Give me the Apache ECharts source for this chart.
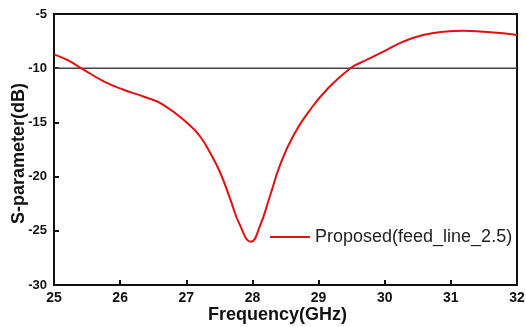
<!DOCTYPE html>
<html><head><meta charset="utf-8">
<script src="https://cdn.jsdelivr.net/npm/echarts@6/dist/echarts.min.js"></script>
<style>html,body{margin:0;padding:0;background:#fff}#c{width:526px;height:327px}</style>
</head><body><div id="c"></div>
<script>
const freq = [25.00, 25.20, 25.44, 25.76, 26.06, 26.36, 26.66, 27.06, 27.21, 27.36, 27.51, 27.66, 27.81, 27.98, 28.11, 28.27, 28.42, 28.62, 28.87, 29.12, 29.48, 29.67, 29.98, 30.28, 30.58, 30.89, 31.19, 31.49, 31.79, 32.00];
const s11 = [-8.72, -9.24, -10.1, -11.24, -12.01, -12.63, -13.4, -15.3, -16.3, -17.8, -19.6, -22.0, -24.45, -26.0, -24.62, -21.7, -18.9, -16.2, -13.86, -12.01, -10.0, -9.4, -8.48, -7.55, -6.94, -6.63, -6.54, -6.63, -6.78, -6.94];
const refLevel = -10;
const xTicks = [25, 32, 1];
const yTicks = [-30, -5, 5];
const seriesName = 'Proposed(feed_line_2.5)';

const chart = echarts.init(document.getElementById('c'));
const FF = 'Liberation Sans, Arial';
const lbl = {color:'#111', fontFamily:FF, fontWeight:'bold', fontSize:14};
chart.setOption({
  animation:false,
  grid:{left:54, right:9, top:14, bottom:42, outerBoundsMode:'none', containLabel:false, show:true, borderColor:'#111', borderWidth:2},
  legend:{left:265, top:223, icon:'path://M0,0L40,0L40,2L0,2Z', itemWidth:40, itemHeight:2, itemGap:5,
    textStyle:{fontFamily:FF, fontSize:18, color:'#222'}, data:[seriesName]},
  xAxis:{type:'value', min:xTicks[0], max:xTicks[1], interval:xTicks[2],
    name:'Frequency(GHz)', nameLocation:'middle', nameGap:21, nameMoveOverlap:false,
    nameTextStyle:{fontFamily:FF, fontWeight:'bold', fontSize:18, color:'#111', padding:[0,16,0,0]},
    axisLine:{lineStyle:{color:'#111', width:2}}, axisTick:{inside:true, length:5, lineStyle:{color:'#111', width:2}},
    axisLabel:Object.assign({margin:6}, lbl), splitLine:{show:false}},
  yAxis:{type:'value', min:yTicks[0], max:yTicks[1], interval:yTicks[2],
    name:'S-parameter(dB)', nameLocation:'middle', nameGap:26, nameMoveOverlap:false,
    nameTextStyle:{fontFamily:FF, fontWeight:'bold', fontSize:18, color:'#111', padding:[0,8,0,0]},
    axisLine:{show:true, lineStyle:{color:'#111', width:2}}, axisTick:{show:true, inside:true, length:5, lineStyle:{color:'#111', width:2}},
    axisLabel:Object.assign({margin:7}, lbl, {fontSize:13}), splitLine:{show:false}},
  series:[
    {name:'ref', type:'line', data:[[xTicks[0], refLevel],[xTicks[1], refLevel]], symbol:'none',
     lineStyle:{color:'#444', width:1.5}, silent:true, z:1},
    {name:seriesName, type:'line', data:freq.map((f,i)=>[f, s11[i]]), smooth:0.5, symbol:'none',
     color:'#e01010', itemStyle:{color:'#e01010'}, lineStyle:{color:'#e01010', width:2}, z:3}
  ]
});
</script></body></html>
